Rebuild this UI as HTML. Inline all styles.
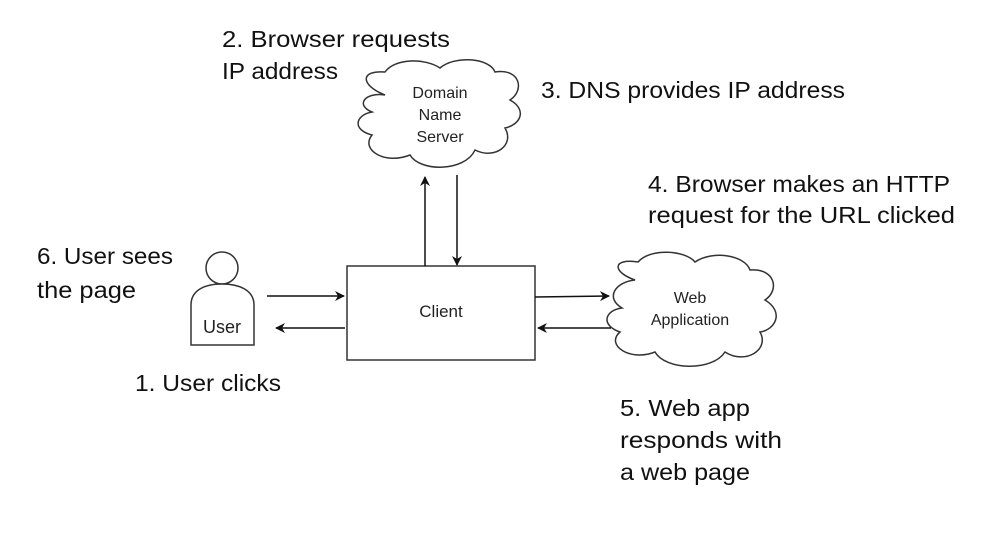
<!DOCTYPE html>
<html><head><meta charset="utf-8"><style>
body{margin:0;background:#fff;}
svg{display:block}
.t{font-family:"Liberation Sans",sans-serif;font-size:23px;fill:#111}
.s{font-family:"Liberation Sans",sans-serif;font-size:16px;fill:#222}
</style></head><body>
<svg width="981" height="536" viewBox="0 0 981 536" xmlns="http://www.w3.org/2000/svg">
<defs><marker id="a" markerWidth="10" markerHeight="10" refX="9" refY="5" orient="auto" markerUnits="userSpaceOnUse"><path d="M0,0 L10,5 L0,10 L3,5 z" fill="#111"/></marker></defs>
<g fill="#fff" stroke="#333" stroke-width="1.5">
<path d="M385,95 C360,85 360,70 385,72 C395,58 425,58 440,68 C455,55 490,58 495,72 C520,68 525,90 510,100 C528,110 520,125 505,128 C515,145 495,160 475,150 C465,172 420,172 410,155 C385,165 360,150 372,135 C352,130 355,115 372,112 C355,105 365,92 385,95 z"/>
<path d="M635,280 C612,272 612,258 638,262 C650,248 685,250 695,262 C712,250 745,255 750,270 C775,268 780,290 765,300 C785,312 775,330 760,332 C770,350 745,365 725,352 C712,372 665,370 655,352 C630,362 605,345 620,332 C600,325 605,310 622,308 C605,298 615,282 635,280 z"/>
<rect x="347" y="266" width="188" height="94"/>
<circle cx="222" cy="268" r="16"/>
<path d="M191,345 L191,305 C191,290 205,284 222,284 C239,284 254,290 254,305 L254,345 z"/>
</g>
<g stroke="#111" stroke-width="1.5" fill="none">
<line x1="425" y1="266" x2="425" y2="177" marker-end="url(#a)"/>
<line x1="457" y1="175" x2="457" y2="265" marker-end="url(#a)"/>
<line x1="267" y1="296" x2="344" y2="296" marker-end="url(#a)"/>
<line x1="345" y1="328" x2="276" y2="328" marker-end="url(#a)"/>
<line x1="535" y1="297" x2="609" y2="296" marker-end="url(#a)"/>
<line x1="611" y1="328" x2="538" y2="328" marker-end="url(#a)"/>
</g>
<text class="s" x="440" y="98" text-anchor="middle">Domain</text>
<text class="s" x="440" y="120" text-anchor="middle">Name</text>
<text class="s" x="440" y="142" text-anchor="middle">Server</text>
<text class="s" x="441" y="317" text-anchor="middle" style="font-size:17px">Client</text>
<text class="s" x="222" y="333" text-anchor="middle" style="font-size:18px">User</text>
<text class="s" x="690" y="303" text-anchor="middle">Web</text>
<text class="s" x="690" y="325" text-anchor="middle">Application</text>
<text class="t" x="222" y="47" textLength="228" lengthAdjust="spacingAndGlyphs">2. Browser requests</text>
<text class="t" x="222" y="79" textLength="116" lengthAdjust="spacingAndGlyphs">IP address</text>
<text class="t" x="541" y="98" textLength="304" lengthAdjust="spacingAndGlyphs">3. DNS provides IP address</text>
<text class="t" x="648" y="192" textLength="302" lengthAdjust="spacingAndGlyphs">4. Browser makes an HTTP</text>
<text class="t" x="648" y="223" textLength="307" lengthAdjust="spacingAndGlyphs">request for the URL clicked</text>
<text class="t" x="37" y="264" textLength="136" lengthAdjust="spacingAndGlyphs">6. User sees</text>
<text class="t" x="37" y="298" textLength="99" lengthAdjust="spacingAndGlyphs">the page</text>
<text class="t" x="135" y="391" textLength="146" lengthAdjust="spacingAndGlyphs">1. User clicks</text>
<text class="t" x="620" y="416" textLength="130" lengthAdjust="spacingAndGlyphs">5. Web app</text>
<text class="t" x="620" y="448" textLength="162" lengthAdjust="spacingAndGlyphs">responds with</text>
<text class="t" x="620" y="480" textLength="130" lengthAdjust="spacingAndGlyphs">a web page</text>
</svg>
</body></html>
